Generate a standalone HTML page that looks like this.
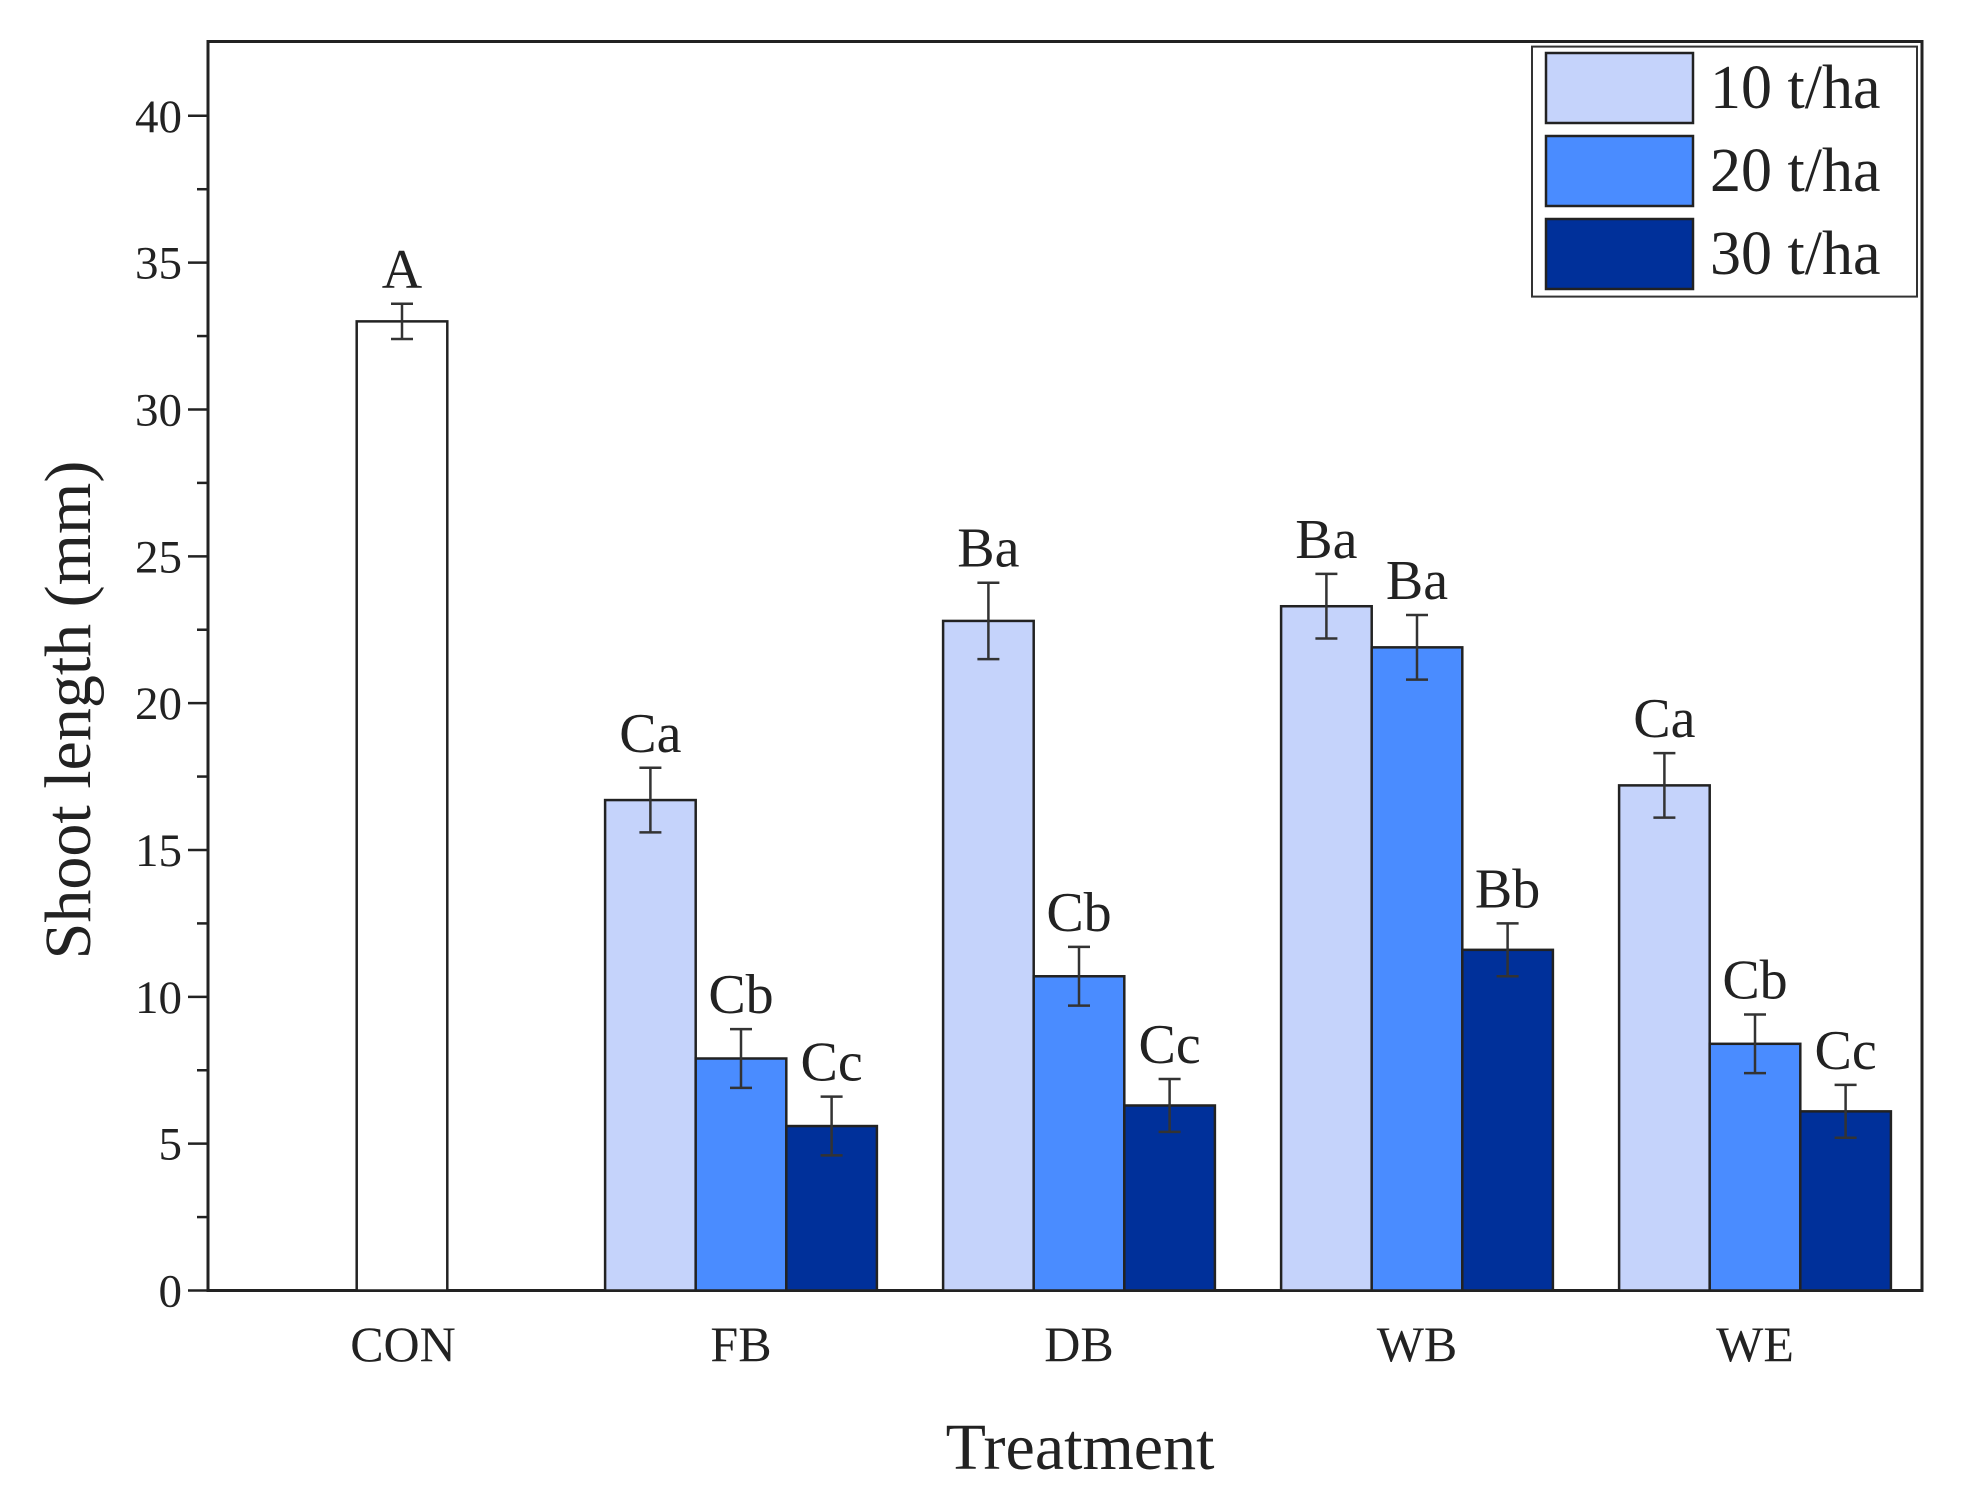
<!DOCTYPE html>
<html><head><meta charset="utf-8"><style>body{margin:0;background:#fff}svg{display:block}text{font-family:"Liberation Serif",serif;fill:#222}</style></head>
<body>
<svg id="chart" width="1974" height="1499" viewBox="0 0 1974 1499" xmlns="http://www.w3.org/2000/svg"></svg>
<script>
const categories = ["CON","FB","DB","WB","WE"];
const seriesNames = ["10 t/ha","20 t/ha","30 t/ha"];
const conValue = [33.0];
const conErr = [0.6];
const conLabel = ["A"];
const s10 = [16.7,22.8,23.3,17.2];
const s20 = [7.9,10.7,21.9,8.4];
const s30 = [5.6,6.3,11.6,6.1];
const e10 = [1.1,1.3,1.1,1.1];
const e20 = [1.0,1.0,1.1,1.0];
const e30 = [1.0,0.9,0.9,0.9];
const l10 = ["Ca","Ba","Ba","Ca"];
const l20 = ["Cb","Cb","Ba","Cb"];
const l30 = ["Cc","Cc","Bb","Cc"];
const yTicks = [0,5,10,15,20,25,30,35,40];

const NS="http://www.w3.org/2000/svg", svg=document.getElementById('chart');
const L=208,R=1922,T=41.5,B=1290.5;
const y=v=>B-v*(B-115.8)/40;
const xc=i=>403+i*338;
const BW=90.6;
const colors=["#c5d3fb","#4a8cff","#00309a"];
function mk(t,a,p){const e=document.createElementNS(NS,t);for(const k in a)e.setAttribute(k,a[k]);(p||svg).appendChild(e);return e;}
function txt(s,a){const e=mk('text',a);e.textContent=s;return e;}

const frame=mk('rect',{x:L,y:T,width:R-L,height:B-T,fill:'none',stroke:'#222','stroke-width':3});


for(let v=0;v<=40;v+=2.5){
  const major=v%5===0;
  const t=mk('line',{x1:L-(major?20:11),x2:L,y1:y(v),y2:y(v),stroke:'#222','stroke-width':2.5});
  
  
}
yTicks.forEach(v=>{
  const t=txt(String(v),{x:L-26,y:y(v)+16,'text-anchor':'end','font-size':47});
  
  
});
categories.forEach((c,i)=>{
  const t=txt(c,{x:xc(i),y:1361,'text-anchor':'middle','font-size':50});
  
  
});
let yt=txt('Shoot length (mm)',{x:0,y:0,'text-anchor':'middle','font-size':66,transform:'translate(90,710) rotate(-90)'});


let xt=txt('Treatment',{x:1080,y:1469,'text-anchor':'middle','font-size':66});



function bar(cx,v,err,lab,fill,name){
  const r=mk('rect',{x:cx-BW/2,y:y(v),width:BW,height:B-y(v),fill:fill,stroke:'#222','stroke-width':2.5});
  
  
  const g=mk('path',{d:`M${cx},${y(v+err)}V${y(v-err)}M${cx-11},${y(v+err)}H${cx+11}M${cx-11},${y(v-err)}H${cx+11}`,stroke:'#333','stroke-width':2.5,fill:'none'});
  
  
  const t=txt(lab,{x:cx,y:y(v+err)-16,'text-anchor':'middle','font-size':56});
  
  
}
bar(xc(0)-1,conValue[0],conErr[0],conLabel[0],'#fff','bar-con');
const S=[s10,s20,s30],E=[e10,e20,e30],LB=[l10,l20,l30];
for(let i=0;i<4;i++)for(let s=0;s<3;s++){
  bar(xc(i+1)+(s-1)*BW,S[s][i],E[s][i],LB[s][i],colors[s],'bar-'+categories[i+1].toLowerCase()+'-'+(s+1)*10);
}
const lg=mk('rect',{x:1532,y:46.6,width:385,height:250,fill:'#fff',stroke:'#333','stroke-width':2});


seriesNames.forEach((n,s)=>{
  const p=mk('rect',{x:1546,y:53+s*83,width:147,height:70,fill:colors[s],stroke:'#222','stroke-width':2.5});
  
  
  const t=txt(n,{x:1710,y:108+s*83,'font-size':62});
  
  
});
</script>
</body></html>
